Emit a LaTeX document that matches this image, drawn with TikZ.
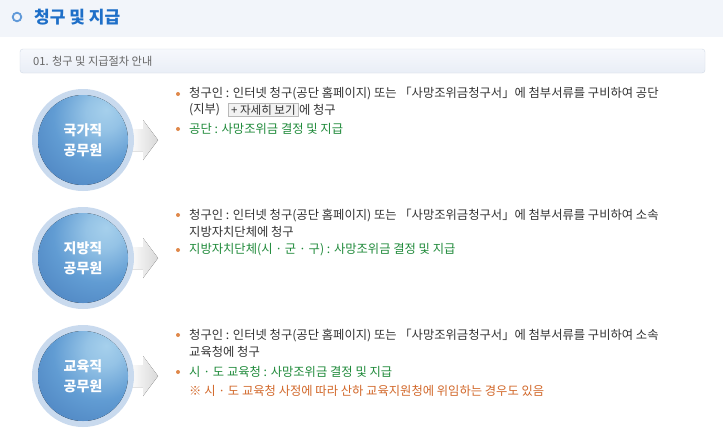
\documentclass[tikz,border=0pt]{standalone}
\usepackage{fontspec}
\newfontfamily\kr{Noto Sans CJK KR}
\usetikzlibrary{shadings}
\definecolor{hdrbg}{HTML}{F2F5FA}
\definecolor{titleblue}{HTML}{1E6FC8}
\definecolor{ringcol}{HTML}{C9DAEE}
\definecolor{ballTop}{HTML}{A6D0EC}
\definecolor{ballMid}{HTML}{619CD3}
\definecolor{ballBot}{HTML}{4478B8}
\definecolor{txtgray}{HTML}{333333}
\definecolor{txtgreen}{HTML}{1F8A3A}
\definecolor{bulletor}{HTML}{E0884A}
\definecolor{noteor}{HTML}{D2682A}
\definecolor{subbd}{HTML}{D2DAE6}
\definecolor{subtop}{HTML}{F6F8FC}
\definecolor{subbot}{HTML}{E9EEF6}
\pgfdeclareradialshading{ballsh}{\pgfpoint{13bp}{17bp}}{color(0bp)=(ballTop); color(10bp)=(ballTop!75!ballMid); color(26bp)=(ballMid); color(52bp)=(ballBot); color(100bp)=(ballBot)}
\tikzset{
  x=1pt,y=-1pt,
  body/.style={anchor=west,inner sep=0pt,font=\kr\fontsize{12.3}{14}\selectfont,text=txtgray},
  grn/.style={body,text=txtgreen},
  nte/.style={body,text=noteor},
  bul/.style={fill=bulletor,circle,inner sep=0pt,minimum size=4pt},
  balltxt/.style={anchor=center,align=center,inner sep=0pt,font=\kr\bfseries\fontsize{14}{20}\selectfont,text=white},
  btn/.style={draw=gray!55,fill=gray!10,inner xsep=3pt,inner ysep=1pt,anchor=west,font=\kr\fontsize{11.5}{12}\selectfont,text=txtgray,minimum height=13pt}
}
\newcommand{\ballrow}[3]{%
  \fill[left color=white,right color=gray!30] (128,#1-11) -- (143,#1-11) -- (143,#1-20) -- (158,#1) -- (143,#1+20) -- (143,#1+11) -- (128,#1+11) -- cycle;
  \fill[ringcol] (83,#1) circle[radius=51];
  \fill[shading=ballsh] (83,#1) circle[radius=45];
  \node[balltxt] (#2) at (83,#1) {#3};
}
\begin{document}
\begin{tikzpicture}
\useasboundingbox (0,0) rectangle (723,442);
\fill[white] (0,0) rectangle (723,442);
% header band
\fill[hdrbg] (0,0) rectangle (723,37);
\draw[line width=1.8pt,draw=titleblue!70] (17,17) circle[radius=4.3];
\node[anchor=west,inner sep=0pt,font=\kr\bfseries\fontsize{17}{20}\selectfont,text=titleblue] (title) at (34,17) {청구 및 지급};
% subheader
\draw[subbd,top color=subtop,bottom color=subbot,rounded corners=3pt] (20,49) rectangle (705,73);
\node[anchor=west,inner sep=0pt,font=\kr\fontsize{11.2}{12}\selectfont,text=gray!80!black] (sub) at (33,61) {01. 청구 및 지급절차 안내};
% rows
\ballrow{140}{b1}{국가직\\공무원}
\ballrow{258}{b2}{지방직\\공무원}
\ballrow{376}{b3}{교육직\\공무원}
% section 1
\node[bul] (d11) at (178,94) {};
\node[body] (t11) at (189,94) {청구인 : 인터넷 청구(공단 홈페이지) 또는 「사망조위금청구서」에 첨부서류를 구비하여 공단};
\node[body] (t12) at (189,110) {(지부)};
\node[btn] (bt) at (228,110) {+ 자세히 보기};
\node[body,anchor=west] (t13) at (bt.east) {에 청구};
\node[bul] (d12) at (178,129) {};
\node[grn] (t14) at (189,129) {공단 : 사망조위금 결정 및 지급};
% section 2
\node[bul] (d21) at (178,215) {};
\node[body] (t21) at (189,215) {청구인 : 인터넷 청구(공단 홈페이지) 또는 「사망조위금청구서」에 첨부서류를 구비하여 소속};
\node[body] (t22) at (189,232) {지방자치단체에 청구};
\node[bul] (d22) at (178,250) {};
\node[grn] (t23) at (189,250) {지방자치단체(시 · 군 · 구) : 사망조위금 결정 및 지급};
% section 3
\node[bul] (d31) at (178,335) {};
\node[body] (t31) at (189,335) {청구인 : 인터넷 청구(공단 홈페이지) 또는 「사망조위금청구서」에 첨부서류를 구비하여 소속};
\node[body] (t32) at (189,352) {교육청에 청구};
\node[bul] (d32) at (178,372) {};
\node[grn] (t33) at (189,372) {시 · 도 교육청 : 사망조위금 결정 및 지급};
\node[nte] (t34) at (189,391) {※ 시 · 도 교육청 사정에 따라 산하 교육지원청에 위임하는 경우도 있음};
\end{tikzpicture}
\end{document}
